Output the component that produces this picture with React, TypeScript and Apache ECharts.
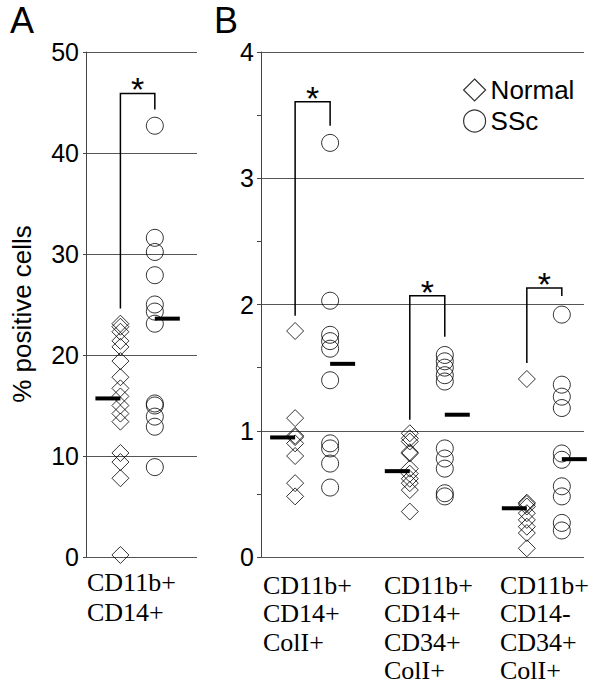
import React, { useEffect, useRef } from "react";
import * as echarts from "echarts";

// ---------- data ----------
// Panel A: CD11b+ CD14+ (% positive cells)
const aNormal = [23.1, 22.8, 22.3, 21.4, 20.8, 19.4, 17.8, 16.7, 15.9, 15.0, 14.2, 13.4, 10.3, 9.4, 7.8, 0.2];
const aSSc = [42.7, 31.6, 30.2, 27.9, 25.0, 24.3, 23.1, 15.2, 15.0, 13.9, 12.9, 8.9];
const aMedianNormal = 15.7;
const aMedianSSc = 23.6;
const aBracket = { top: 45.9, leftBottom: 24.6, rightBottom: 44.3 };

// Panel B: three cell populations
const bCategories = [
  ["CD11b+", "CD14+", "ColI+"],
  ["CD11b+", "CD14+", "CD34+", "ColI+"],
  ["CD11b+", "CD14-", "CD34+", "ColI+"],
];
const bNormal = [
  [1.79, 1.1, 0.96, 0.95, 0.9, 0.8, 0.585, 0.48],
  [0.98, 0.94, 0.915, 0.83, 0.82, 0.7, 0.66, 0.62, 0.585, 0.53, 0.36],
  [1.41, 0.43, 0.42, 0.4, 0.347, 0.294, 0.24, 0.19, 0.069],
];
const bSSc = [
  [3.28, 2.03, 1.76, 1.71, 1.65, 1.4, 0.9, 0.86, 0.74, 0.55],
  [1.6, 1.55, 1.5, 1.44, 1.39, 0.86, 0.78, 0.7, 0.505, 0.48],
  [1.92, 1.365, 1.27, 1.18, 0.82, 0.77, 0.56, 0.48, 0.27, 0.21],
];
const bMedianNormal = [0.947, 0.68, 0.386];
const bMedianSSc = [1.53, 1.127, 0.775];
const bBracketTop = [3.605, 2.07, 2.13];
const bBracketLeftBottom = [1.91, 1.087, 1.537];
const bBracketRightBottom = [3.415, 1.744, 2.067];

// x positions (axis units) of the point columns
const aPos = { normal: 0.31, ssc: 0.62 };
const bPosNormal = [0.317, 1.382, 2.469];
const bSScOffset = 0.325;

const SANS = "Liberation Sans, Arial, sans-serif";
const SERIF = "Liberation Serif, Times New Roman, serif";

const pointStyle = { color: "rgba(0,0,0,0)", borderColor: "#000", borderWidth: 1 };

const medianRender = (params: any, api: any) => {
  const p = api.coord([api.value(0), api.value(1)]);
  const dir = api.value(2);
  return {
    type: "line",
    shape: { x1: p[0], y1: p[1], x2: p[0] + dir * 25, y2: p[1] },
    style: { stroke: "#000", lineWidth: 4 },
  };
};

const bracketRender = (params: any, api: any) => {
  const xN = api.value(0), xS = api.value(1), top = api.value(2), lb = api.value(3), rb = api.value(4);
  const p1 = api.coord([xN, lb]);
  const p2 = api.coord([xN, top]);
  const p3 = api.coord([xS, top]);
  const p4 = api.coord([xS, rb]);
  return {
    type: "group",
    children: [
      {
        type: "polyline",
        shape: { points: [p1, p2, p3, p4] },
        style: { stroke: "#000", fill: null, lineWidth: 1.5 },
      },
      {
        type: "text",
        x: (p2[0] + p3[0]) / 2,
        y: p2[1] - 4,
        style: { text: "*", fontSize: 34, fontFamily: SANS, fill: "#000", align: "center", verticalAlign: "middle" },
      },
    ],
  };
};

export default function App() {
  const ref = useRef<HTMLDivElement>(null);
  useEffect(() => {
    document.body.style.margin = "0";
    if (!ref.current) return;
    const chart = echarts.init(ref.current, undefined, { renderer: "svg" });

    const yAxisCommon = {
      type: "value",
      axisLine: { show: true, lineStyle: { color: "#444", width: 1 } },
      axisLabel: { color: "#000", fontSize: 25, fontFamily: SANS, margin: 7 },
      splitLine: { show: true, lineStyle: { color: "#555", width: 1 } },
    };

    const bNormalData: number[][] = [];
    const bSScData: number[][] = [];
    bNormal.forEach((g, i) => g.forEach((v) => bNormalData.push([bPosNormal[i], v])));
    bSSc.forEach((g, i) => g.forEach((v) => bSScData.push([bPosNormal[i] + bSScOffset, v])));

    const graphics: any[] = [
      { type: "text", left: 10, top: 2, style: { text: "A", fontSize: 36, fontFamily: SANS, fill: "#000" } },
      { type: "text", left: 214, top: 2, style: { text: "B", fontSize: 36, fontFamily: SANS, fill: "#000" } },
      {
        type: "text",
        x: 22,
        y: 314,
        rotation: Math.PI / 2,
        style: { text: "% positive cells", fontSize: 26, fontFamily: SANS, fill: "#000", align: "center", verticalAlign: "middle" },
      },
      {
        type: "text",
        left: 87,
        top: 567,
        style: { text: "CD11b+\nCD14+", fontSize: 26, lineHeight: 30, fontFamily: SERIF, fill: "#000" },
      },
    ];
    const bLabelX = [263, 384, 500];
    bCategories.forEach((lines, i) => {
      graphics.push({
        type: "text",
        left: bLabelX[i],
        top: 571,
        style: { text: lines.join("\n"), fontSize: 26, lineHeight: 28.5, fontFamily: SERIF, fill: "#000" },
      });
    });

    chart.setOption({
      animation: false,
      backgroundColor: "#fff",
      grid: [
        { left: 86, top: 52, width: 111, height: 505 },
        { left: 261, top: 52, width: 323, height: 505 },
      ],
      xAxis: [
        { type: "value", gridIndex: 0, min: 0, max: 1, show: false },
        { type: "value", gridIndex: 1, min: 0, max: 3, show: false },
      ],
      yAxis: [
        {
          ...yAxisCommon,
          gridIndex: 0,
          min: 0,
          max: 50,
          interval: 10,
          axisTick: { show: true, length: 3, lineStyle: { color: "#444" } },
        },
        {
          ...yAxisCommon,
          gridIndex: 1,
          min: 0,
          max: 4,
          interval: 1,
          axisTick: { show: true, length: 4, lineStyle: { color: "#444" } },
          minorTick: { show: true, splitNumber: 2, length: 4, lineStyle: { color: "#444" } },
        },
      ],
      legend: {
        left: 458,
        top: 71,
        orient: "vertical",
        itemWidth: 22,
        itemHeight: 22,
        itemGap: 3,
        textStyle: { fontSize: 26, fontFamily: SANS, color: "#000", lineHeight: 28 },
        data: [
          { name: "Normal", icon: "diamond", itemStyle: { color: "rgba(0,0,0,0)", borderColor: "#000", borderWidth: 1.2 } },
          { name: "SSc", icon: "circle", itemStyle: { color: "rgba(0,0,0,0)", borderColor: "#000", borderWidth: 1.2 } },
        ],
      },
      graphic: graphics,
      series: [
        {
          name: "Normal",
          type: "scatter",
          xAxisIndex: 0,
          yAxisIndex: 0,
          symbol: "diamond",
          symbolSize: 17,
          itemStyle: pointStyle,
          data: aNormal.map((v) => [aPos.normal, v]),
        },
        {
          name: "SSc",
          type: "scatter",
          xAxisIndex: 0,
          yAxisIndex: 0,
          symbol: "circle",
          symbolSize: 17,
          itemStyle: pointStyle,
          data: aSSc.map((v) => [aPos.ssc, v]),
        },
        {
          name: "Normal",
          type: "scatter",
          xAxisIndex: 1,
          yAxisIndex: 1,
          symbol: "diamond",
          symbolSize: 17,
          itemStyle: pointStyle,
          data: bNormalData,
        },
        {
          name: "SSc",
          type: "scatter",
          xAxisIndex: 1,
          yAxisIndex: 1,
          symbol: "circle",
          symbolSize: 17,
          itemStyle: pointStyle,
          data: bSScData,
        },
        {
          name: "medianA",
          type: "custom",
          xAxisIndex: 0,
          yAxisIndex: 0,
          z: 5,
          renderItem: medianRender,
          data: [
            [aPos.normal, aMedianNormal, -1],
            [aPos.ssc, aMedianSSc, 1],
          ],
        },
        {
          name: "medianB",
          type: "custom",
          xAxisIndex: 1,
          yAxisIndex: 1,
          z: 5,
          renderItem: medianRender,
          data: [
            ...bMedianNormal.map((m, i) => [bPosNormal[i], m, -1]),
            ...bMedianSSc.map((m, i) => [bPosNormal[i] + bSScOffset, m, 1]),
          ],
        },
        {
          name: "bracketA",
          type: "custom",
          xAxisIndex: 0,
          yAxisIndex: 0,
          renderItem: bracketRender,
          data: [[aPos.normal, aPos.ssc, aBracket.top, aBracket.leftBottom, aBracket.rightBottom]],
        },
        {
          name: "bracketB",
          type: "custom",
          xAxisIndex: 1,
          yAxisIndex: 1,
          renderItem: bracketRender,
          data: bBracketTop.map((t, i) => [
            bPosNormal[i],
            bPosNormal[i] + bSScOffset,
            t,
            bBracketLeftBottom[i],
            bBracketRightBottom[i],
          ]),
        },
      ],
    });
    return () => chart.dispose();
  }, []);
  return <div ref={ref} style={{ width: 600, height: 686 }} />;
}
